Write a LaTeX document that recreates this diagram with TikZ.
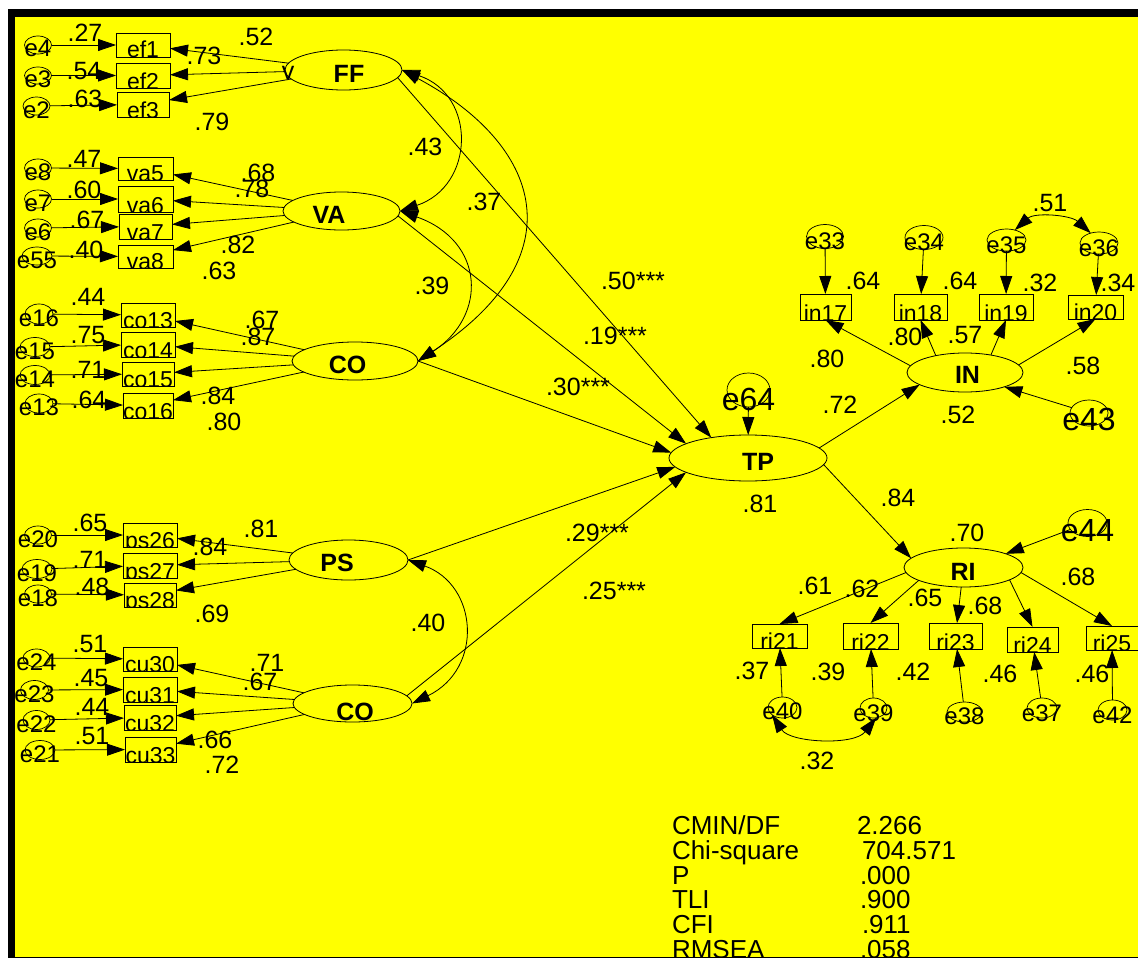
\documentclass[tikz,border=0pt]{standalone}
\usepackage{fontspec}
\setmainfont{Liberation Sans}
\usetikzlibrary{arrows.meta,shapes.geometric}

\definecolor{bgyellow}{RGB}{255,255,0}
\newcommand\fsz[1]{\fontsize{#1}{#1}\selectfont}
% observed variable: box with its label clipped to the box
\newcommand\obs[5]{%
  \node[obsbox, minimum width=#4pt, minimum height=#5pt,
        path picture={\node[btxt] at (path picture bounding box.south) {#1};}]
        (#1) at (#2,#3) {};}
% error term: small ellipse with its name set over its lower half
\newcommand\errc[7]{%
  \node[errs, minimum width=#4pt, minimum height=#5pt] (#1) at (#2,#3) {};
  \node[font=\fsz{#6}, anchor=base, yshift=-#7pt] (#1t) at (#2,#3) {#1};}

\tikzset{
  every node/.style={inner sep=0pt, outer sep=0pt},
  ln/.style={line width=0.8pt},
  amos/.tip={Triangle[length=18pt,width=12pt]},
  reg/.style={ln, -amos},
  cov/.style={ln, amos-amos},
  latent/.style={draw, ellipse, ln},
  errs/.style={draw, ellipse, line width=0.7pt},
  obsbox/.style={draw, rectangle, ln},
  btxt/.style={font=\fsz{23}, anchor=base, yshift=-1pt},
  num/.style={font=\fsz{25}, anchor=base, yshift=-9pt},
  lattxt/.style={font=\fsz{25}\bfseries, anchor=base},
  fit/.style={font=\fsz{26}, anchor=base west},
}

\begin{document}
\begin{tikzpicture}[x=1pt,y=-1pt]
\useasboundingbox (0,0) rectangle (1138,958);
\fill[white] (0,0) rectangle (1138,958);
\fill[black] (7.5,9) rectangle (1138,958);
\fill[bgyellow] (15.3,16.7) rectangle (1138,956.5);

% ---------- latent variables ----------
\node[latent, minimum width=117pt, minimum height=40pt] (FF) at (343.5,70) {};
\node[latent, minimum width=117pt, minimum height=38pt] (VA) at (341.5,211) {};
\node[latent, minimum width=126pt, minimum height=38pt] (CO) at (355,361) {};
\node[latent, minimum width=119pt, minimum height=40pt] (PS) at (348.5,560) {};
\node[latent, minimum width=119pt, minimum height=37pt] (CU) at (352.5,703.5) {};
\node[latent, minimum width=158pt, minimum height=46pt] (TP) at (748,458) {};
\node[latent, minimum width=116pt, minimum height=39pt] (IN) at (965,372.5) {};
\node[latent, minimum width=119pt, minimum height=39pt] (RI) at (963.5,567.5) {};

\node[lattxt] (FFt) at (349,83) {FF};
\node[lattxt] (VAt) at (329,223) {VA};
\node[lattxt] (COt) at (347.5,373) {CO};
\node[lattxt] (PSt) at (337,571) {PS};
\node[lattxt] (CUt) at (355,720) {CO};
\node[lattxt] (TPt) at (758,470) {TP};
\node[lattxt] (INt) at (967.5,383) {IN};
\node[lattxt] (RIt) at (963,580) {RI};

% ---------- observed variables ----------
\obs{ef1}{143}{45}{54}{24}
\obs{ef2}{143}{75.5}{54}{25}
\obs{ef3}{143}{104.5}{52}{25}
\obs{va5}{145.5}{168.5}{55}{23}
\obs{va6}{145.5}{199}{55}{26}
\obs{va7}{145.5}{226.5}{53}{25}
\obs{va8}{145.5}{256.5}{55}{23}
\obs{co13}{148}{315}{54}{24}
\obs{co14}{148}{344.5}{54}{25}
\obs{co15}{148}{374}{52}{24}
\obs{co16}{148}{405.5}{50}{25}
\obs{ps26}{150}{535}{54}{24}
\obs{ps27}{150}{565.5}{54}{25}
\obs{ps28}{150}{595}{52}{24}
\obs{cu30}{150}{659}{54}{24}
\obs{cu31}{150}{689.5}{54}{25}
\obs{cu32}{150}{717.5}{52}{25}
\obs{cu33}{150.5}{749.5}{51}{25}
\obs{in17}{825.5}{307}{51}{26}
\obs{in18}{920.5}{307}{53}{26}
\obs{in19}{1006}{307}{54}{26}
\obs{in20}{1095.5}{307}{55}{24}
\obs{ri21}{779.5}{636}{55}{24}
\obs{ri22}{870.5}{636}{55}{26}
\obs{ri23}{955.5}{636}{53}{26}
\obs{ri24}{1032.5}{639.5}{51}{25}
\obs{ri25}{1112}{638}{52}{24}

% ---------- error terms ----------
\errc{e4}{38}{45}{27}{18}{24}{12}
\errc{e3}{38}{75.5}{27}{17}{24}{12}
\errc{e2}{36.5}{106}{27}{18}{24}{12}
\errc{e8}{38}{168}{27}{18}{24}{12}
\errc{e7}{38}{199}{27}{18}{24}{12}
\errc{e6}{38}{228}{27}{18}{24}{12}
\errc{e55}{37}{256}{30}{18}{24}{12}
\errc{e16}{39}{314}{28}{20}{24}{12}
\errc{e15}{35}{347}{30}{19}{24}{12}
\errc{e14}{35}{375}{30}{19}{24}{12}
\errc{e13}{39}{403.5}{28}{19}{24}{12}
\errc{e20}{38}{535}{27}{18}{24}{12}
\errc{e19}{37}{569}{30}{19}{24}{12}
\errc{e18}{38}{594}{27}{18}{24}{12}
\errc{e24}{36.5}{658}{27}{18}{24}{12}
\errc{e23}{34.5}{690}{28}{19}{24}{12}
\errc{e22}{36.5}{720}{27}{19}{24}{12}
\errc{e21}{40}{750}{30}{19}{24}{12}
\errc{e33}{825}{236.5}{37}{24}{24}{13}
\errc{e34}{924}{237.5}{38}{24}{24}{13}
\errc{e35}{1006.5}{240}{39}{22}{24}{13}
\errc{e36}{1099}{243}{38}{22}{24}{13}
\errc{e40}{782.5}{707.5}{29}{21}{24}{12}
\errc{e39}{873.5}{708}{27}{20}{24}{13.5}
\errc{e38}{964.5}{712}{35}{20}{24}{12.5}
\errc{e37}{1042}{708}{30}{20}{24}{13.5}
\errc{e42}{1112.5}{710}{29}{20}{24}{13.5}
\errc{e64}{748.5}{390}{43}{34}{32}{20}
\errc{e43}{1089}{413}{38}{26}{32}{17}
\errc{e44}{1087.5}{523}{39}{27}{32}{18}

% ---------- error paths ----------
\foreach \a/\b in {e4/ef1,e3/ef2,e2/ef3,e8/va5,e7/va6,e6/va7,e55/va8,
  e16/co13,e15/co14,e14/co15,e13/co16,e20/ps26,e19/ps27,e18/ps28,
  e24/cu30,e23/cu31,e22/cu32,e21/cu33,e33/in17,e34/in18,e35/in19,e36/in20,
  e40/ri21,e39/ri22,e38/ri23,e37/ri24,e42/ri25}
  \draw[reg] (\a) -- (\b);

% ---------- loadings ----------
\foreach \b in {ef1,ef2,ef3} \draw[reg] (FF) -- (\b);
\foreach \b in {va5,va6,va7,va8} \draw[reg] (VA) -- (\b);
\foreach \b in {co13,co14,co15,co16} \draw[reg] (CO) -- (\b);
\foreach \b in {ps26,ps27,ps28} \draw[reg] (PS) -- (\b);
\foreach \b in {cu30,cu31,cu32,cu33} \draw[reg] (CU) -- (\b);
\draw[reg] (IN.173) -- (in17.south);
\draw[reg] (IN.150) -- (in18.south);
\draw[reg] (IN.34) -- (in19.south);
\draw[reg] (IN.8) -- (in20.south);
\draw[reg] (RI.185) -- (ri21.north);
\draw[reg] (RI.196) -- (ri22.north);
\draw[reg] (RI) -- (ri23);
\draw[reg] (RI.-15) -- (ri24.north);
\draw[reg] (RI.-5) -- (ri25.north);

% ---------- structural paths ----------
\draw[reg] (FF.-8) -- (TP.151);
\draw[reg] (VA.-5) -- (TP.167);
\draw[reg] (CO.east) -- (TP.176);
\draw[reg] (PS.east) -- (TP.187);
\draw[reg] (CU.8) -- (TP.193);
\draw[reg] (e64) -- (TP);
\draw[reg] (TP.8) -- (IN.195);
\draw[reg] (TP.-5) -- (RI.170);
\draw[reg] (e43) -- (IN.-20);
\draw[reg] (e44) -- (RI.18);

% ---------- covariances ----------
\draw[cov] (FF.east) .. controls +(75,25) and +(75,-25) .. (VA.east);
\draw[cov] (FF.east) .. controls +(140,75) and +(160,-105) .. (CO.east);
\draw[cov] (VA.east) .. controls +(85,30) and +(70,-45) .. (CO.east);
\draw[cov] (PS.east) .. controls +(70,25) and +(72,-35) .. (CU.east);
\draw[cov] (e35.50) .. controls +(20,-18) and +(-20,-18) .. (e36.130);
\draw[cov] (e40.215) .. controls +(18,28) and +(-22,28) .. (e39.-75);

% ---------- estimates ----------
\foreach \x/\y/\lb [count=\i] in {
  85/33/.27, 84/70/.54, 85/98/.63, 256/37/.52, 204/56/.73, 212/121/.79,
  84/158/.47, 84/189/.60, 87/219/.67, 86/249/.40, 258/172/.68, 252/188/.78,
  238/244/.82, 219/270/.63,
  88/296/.44, 88/334/.75, 88/369/.71, 89/399/.64, 262/319/.67, 258/336/.87,
  218/395/.84, 224/421/.80,
  90/522/.65, 90/559/.71, 92/586/.48, 261/528/.81, 210/546/.84, 212/613/.69,
  90/643/.51, 91/677/.45, 92/706/.44, 92/735/.51, 267/662/.71, 260/681/.67,
  215/739/.66, 222/764/.72,
  425/146/.43, 484/201/.37, 432/285/.39, 428/622/.40,
  633/280/.50***, 615/335/.19***, 578/386/.30***, 597/532/.29***, 614/590/.25***,
  840/404/.72, 760/503/.81, 898/497/.84,
  863/280/.64, 960/280/.64, 1040/282/.32, 1118/282/.34, 1050/202/.51,
  827/358/.80, 905/336/.80, 965/334/.57, 1083/365/.58, 958/414/.52,
  967/532/.70, 815/585/.61, 862/588/.62, 925/597/.65, 985/605/.68, 1078/576/.68,
  752/670/.37, 828/671/.39, 913/671/.42, 1000/673/.46, 1092/673/.46, 817/760/.32}
  \node[num] (est\i) at (\x,\y) {\lb};
\node[num] (vmark) at (288,71) {v};

% ---------- fit indices ----------
\node[fit] (fa1) at (672,834.6) {CMIN/DF};
\node[fit] (fa2) at (672,859.6) {Chi-square};
\node[fit] (fa3) at (672,884.6) {P};
\node[fit] (fa4) at (672,908.6) {TLI};
\node[fit] (fa5) at (672,933.6) {CFI};
\node[fit] (fa6) at (672,958.6) {RMSEA};
\node[fit] (fb1) at (857,834.6) {2.266};
\node[fit] (fb2) at (862,859.6) {704.571};
\node[fit] (fb3) at (860,884.6) {.000};
\node[fit] (fb4) at (860,908.6) {.900};
\node[fit] (fb5) at (862,933.6) {.911};
\node[fit] (fb6) at (860,958.6) {.058};

\fill[black] (7.5,956.5) rectangle (1138,958);
\end{tikzpicture}
\end{document}
